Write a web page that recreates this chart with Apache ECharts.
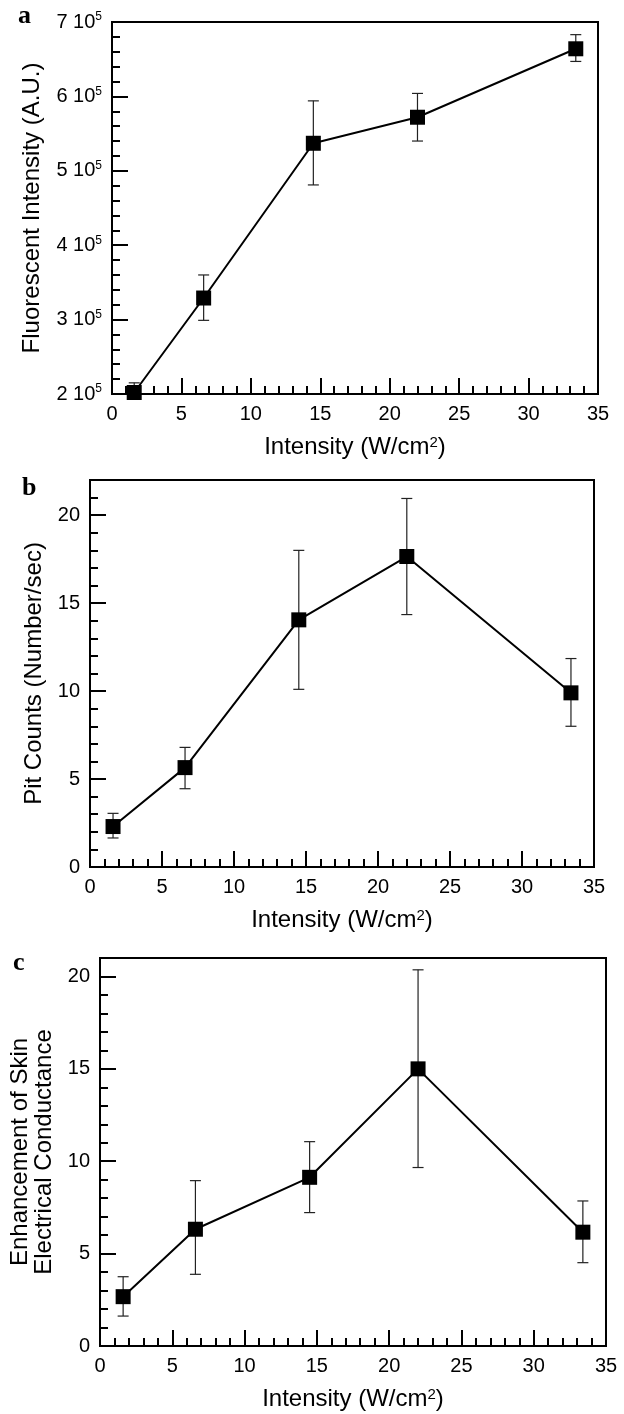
<!DOCTYPE html>
<html><head><meta charset="utf-8">
<script src="https://cdn.jsdelivr.net/npm/echarts@6/dist/echarts.min.js"></script>
<style>html,body{margin:0;padding:0;background:#fff}#c{width:624px;height:1414px}</style>
</head><body><div id="c"></div>
<script>
// ---- data ----
const intensity = [1.6, 6.6, 14.5, 22.0, 33.4];
const fluorMean = [202000, 329000, 537000, 572000, 664000];
const fluorLow  = [189000, 299000, 481000, 540000, 647000];
const fluorHigh = [215000, 360000, 594000, 604000, 683000];
const pitMean = [2.3, 5.65, 14.05, 17.65, 9.9];
const pitLow  = [1.65, 4.45, 10.1, 14.35, 8.0];
const pitHigh = [3.05, 6.8, 18.0, 20.95, 11.85];
const condMean = [2.67, 6.32, 9.13, 15.0, 6.16];
const condLow  = [1.62, 3.88, 7.22, 9.66, 4.51];
const condHigh = [3.75, 8.95, 11.06, 20.36, 7.85];
const xTicks = [0, 5, 10, 15, 20, 25, 30, 35];
const yTicksA = [2, 3, 4, 5, 6, 7];   // x 10^5
const yTicksB = [0, 5, 10, 15, 20];
const yTicksC = [0, 5, 10, 15, 20];

const FONT = "'Liberation Sans', Arial, Helvetica, sans-serif";
const INK = '#000';

const grids = [
  {left: 112, top: 22, width: 486, height: 372},
  {left: 90, top: 480, width: 504, height: 387},
  {left: 100, top: 958, width: 506, height: 388}
].map(g => Object.assign({show: true, borderColor: INK, borderWidth: 2, backgroundColor: 'transparent'}, g));

const xName = 'Intensity (W/cm{s|2})';
const nameStyle = {fontSize: 24, fontFamily: FONT, color: INK,
  rich: {s: {fontSize: 15, lineHeight: 15, verticalAlign: 'top', fontFamily: FONT, color: INK}}};

function xAxes(gi) {
  return [
    {type: 'value', gridIndex: gi, position: 'bottom', min: 0, max: 35,
     axisLine: {show: false, onZero: false}, splitLine: {show: false},
     axisTick: {inside: true, length: 16, lineStyle: {color: INK, width: 2}, customValues: xTicks},
     axisLabel: {fontSize: 20, fontFamily: FONT, color: INK, margin: 10, customValues: xTicks},
     name: xName, nameLocation: 'middle', nameGap: 41, nameTextStyle: nameStyle},
    {type: 'value', gridIndex: gi, position: 'bottom', min: 0, max: 35, interval: 1,
     axisLine: {show: false, onZero: false}, splitLine: {show: false}, axisLabel: {show: false},
     axisTick: {inside: true, length: 8, lineStyle: {color: INK, width: 2}}}
  ];
}
function yAxes(gi, min, max, ticks, minorStep, labelFmt, name, nameGap, nameExtra) {
  return [
    {type: 'value', gridIndex: gi, position: 'left', min: min, max: max,
     axisLine: {show: false, onZero: false}, splitLine: {show: false},
     axisTick: {inside: true, length: 16, lineStyle: {color: INK, width: 2}, customValues: ticks},
     axisLabel: {fontSize: 20, fontFamily: FONT, color: INK, margin: 10, customValues: ticks,
       formatter: labelFmt,
       rich: {n: {fontSize: 20, lineHeight: 22, fontFamily: FONT, color: INK},
              s: {fontSize: 12, lineHeight: 12, verticalAlign: 'top', fontFamily: FONT, color: INK}}},
     name: name, nameLocation: 'middle', nameGap: nameGap,
     nameTextStyle: Object.assign({fontSize: 24, fontFamily: FONT, color: INK}, nameExtra || {})},
    {type: 'value', gridIndex: gi, position: 'left', min: min, max: max, interval: minorStep,
     axisLine: {show: false, onZero: false}, splitLine: {show: false}, axisLabel: {show: false},
     axisTick: {inside: true, length: 8, lineStyle: {color: INK, width: 2}}}
  ];
}

function errSeries(p, low, high) {
  return {
    type: 'custom', xAxisIndex: 2 * p, yAxisIndex: 2 * p, clip: true, z: 2, silent: true,
    encode: {x: 0, y: [1, 2]},
    data: intensity.map((x, i) => [x, low[i], high[i]]),
    renderItem(params, api) {
      const x = api.value(0);
      const lo = api.coord([x, api.value(1)]);
      const hi = api.coord([x, api.value(2)]);
      const w = 5.5, st = {stroke: '#222', lineWidth: 1.2};
      return {type: 'group', children: [
        {type: 'line', shape: {x1: lo[0], y1: lo[1], x2: hi[0], y2: hi[1]}, style: st},
        {type: 'line', shape: {x1: hi[0] - w, y1: hi[1], x2: hi[0] + w, y2: hi[1]}, style: st},
        {type: 'line', shape: {x1: lo[0] - w, y1: lo[1], x2: lo[0] + w, y2: lo[1]}, style: st}
      ]};
    }
  };
}
function lineSeries(p, mean) {
  return {
    type: 'line', xAxisIndex: 2 * p, yAxisIndex: 2 * p, z: 3,
    data: intensity.map((x, i) => [x, mean[i]]),
    symbol: 'rect', symbolSize: 15, showSymbol: true,
    lineStyle: {color: INK, width: 2}, itemStyle: {color: INK}
  };
}

const option = {
  animation: false,
  backgroundColor: '#fff',
  grid: grids,
  xAxis: [].concat(xAxes(0), xAxes(1), xAxes(2)),
  yAxis: [].concat(
    yAxes(0, 200000, 700000, yTicksA.map(v => v * 1e5), 20000,
      v => '{n|' + Math.round(v / 1e5) + ' 10}{s|5}', 'Fluorescent Intensity (A.U.)', 68),
    yAxes(1, 0, 22, yTicksB, 1, v => '{n|' + v + '}', 'Pit Counts (Number/sec)', 44),
    yAxes(2, 0, 21, yTicksC, 1, v => '{n|' + v + '}', 'Enhancement of Skin\nElectrical Conductance', 38,
      {lineHeight: 24, fontSize: 24})
  ),
  series: [
    errSeries(0, fluorLow, fluorHigh), lineSeries(0, fluorMean),
    errSeries(1, pitLow, pitHigh), lineSeries(1, pitMean),
    errSeries(2, condLow, condHigh), lineSeries(2, condMean)
  ],
  graphic: [
    {type: 'text', x: 18, y: 16, style: {text: 'a', font: "bold 26px 'Liberation Serif', 'Times New Roman', serif", fill: INK, verticalAlign: 'middle'}},
    {type: 'text', x: 22, y: 488, style: {text: 'b', font: "bold 26px 'Liberation Serif', 'Times New Roman', serif", fill: INK, verticalAlign: 'middle'}},
    {type: 'text', x: 13, y: 963, style: {text: 'c', font: "bold 26px 'Liberation Serif', 'Times New Roman', serif", fill: INK, verticalAlign: 'middle'}}
  ]
};
const chart = echarts.init(document.getElementById('c'), null, {renderer: 'canvas'});
chart.setOption(option);
</script>
</body></html>
